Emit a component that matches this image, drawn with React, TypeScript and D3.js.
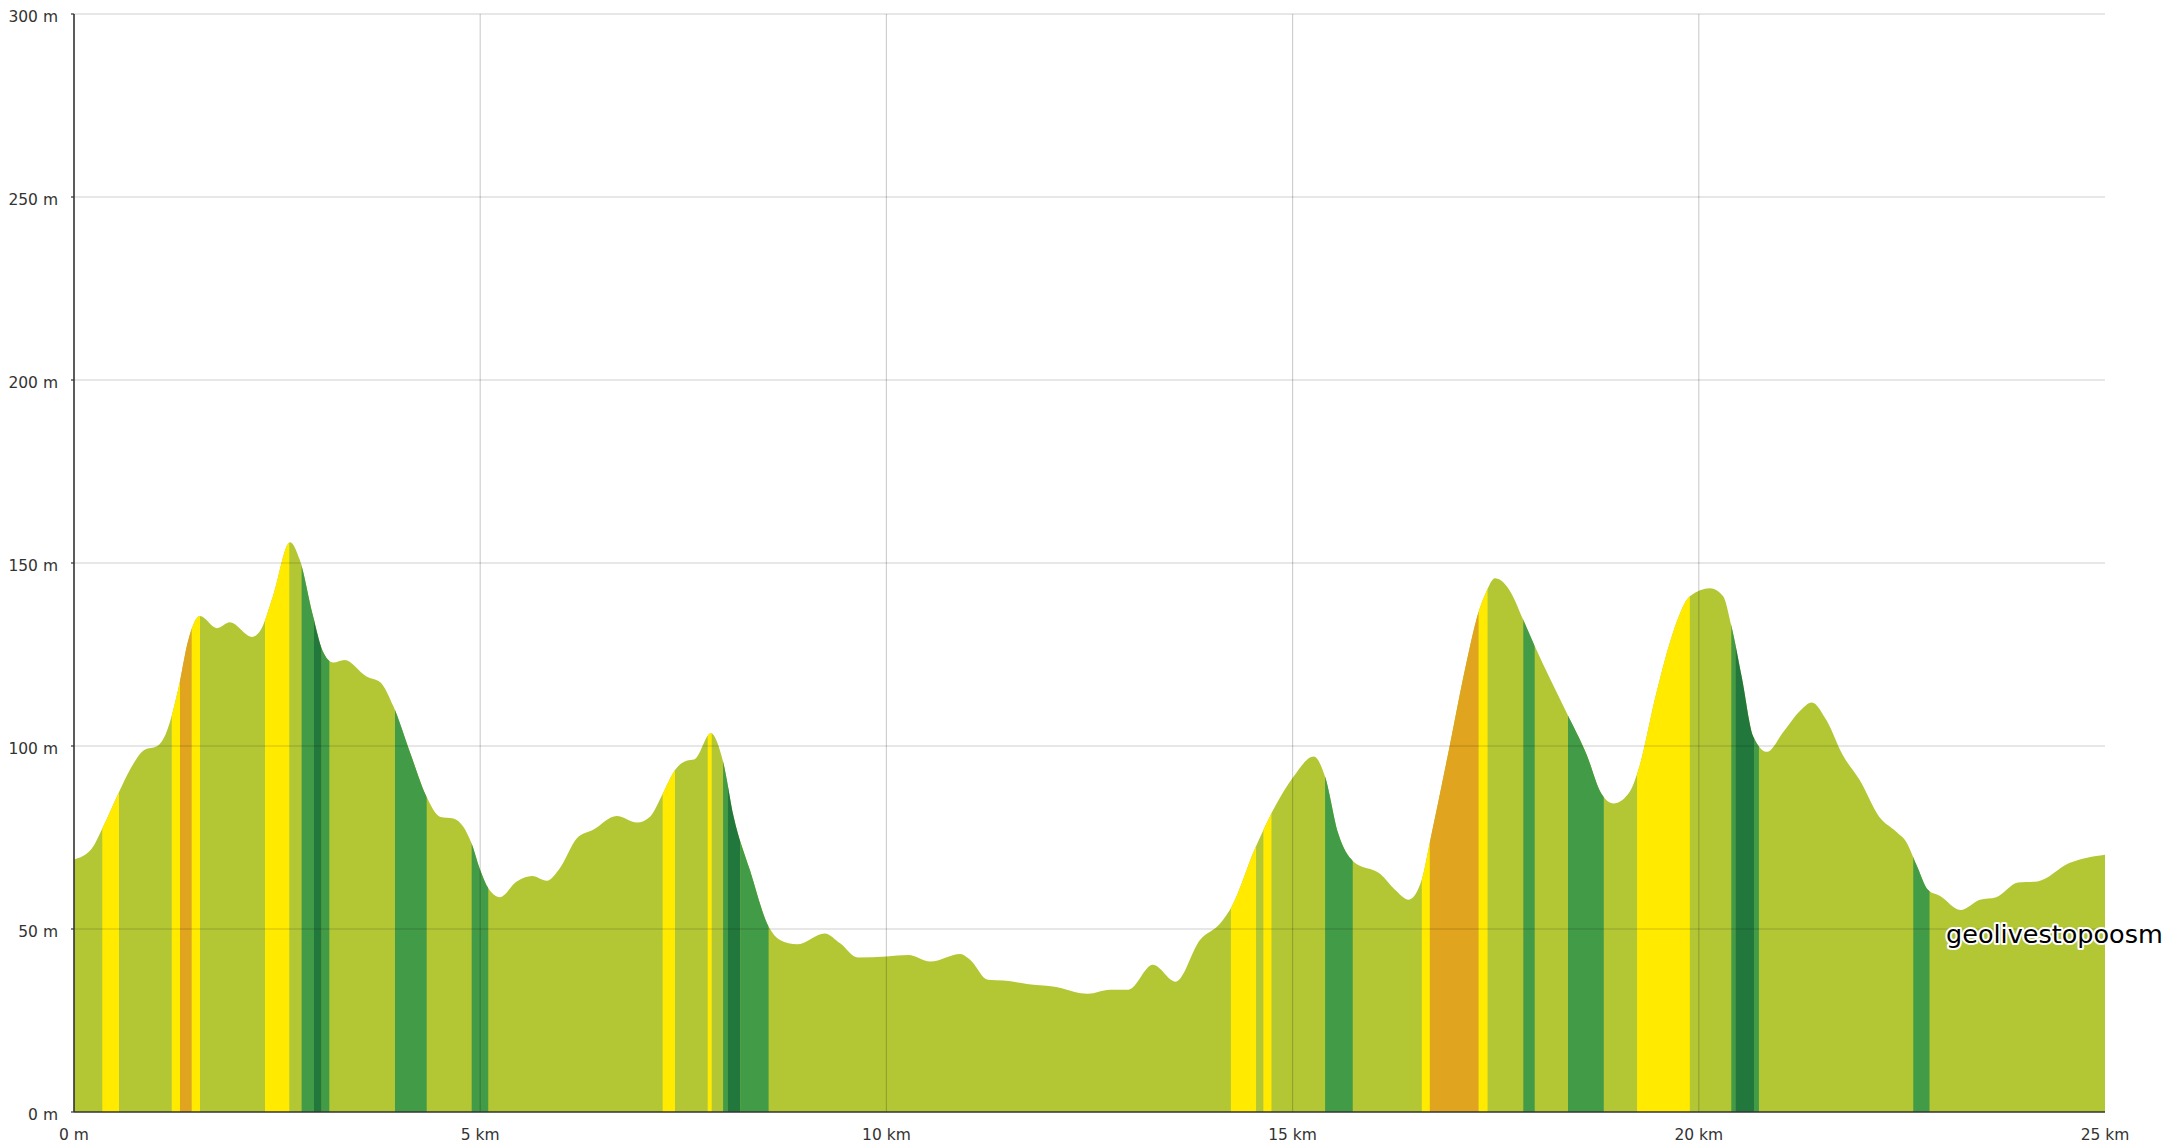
import * as d3 from "d3";

// elevation profile (km, m)
const distKm = [
  0, 0.22, 0.35, 0.56, 0.69, 0.87, 1.02, 1.14, 1.28, 1.41, 1.55, 1.76, 1.92, 2.19, 2.29, 2.45, 2.66, 2.78, 2.94, 3.06,
  3.19, 3.33, 3.6, 3.77, 3.93, 4.14, 4.34, 4.51, 4.67, 4.79, 4.9, 5.0, 5.1, 5.24, 5.45, 5.64, 5.82, 5.98, 6.19, 6.39,
  6.68, 6.93, 7.09, 7.25, 7.4, 7.54, 7.64, 7.84, 7.99, 8.12, 8.32, 8.55, 8.69, 8.9, 9.24, 9.43, 9.65, 10.0, 10.27, 10.54,
  10.91, 11.03, 11.25, 11.44, 11.73, 12.05, 12.48, 12.75, 12.98, 13.28, 13.56, 13.86, 14.11, 14.25, 14.54, 14.76, 15.01, 15.26, 15.4, 15.56,
  15.75, 16.08, 16.26, 16.43, 16.59, 16.69, 16.93, 17.14, 17.28, 17.39, 17.49, 17.66, 17.84, 17.98, 18.37, 18.62, 18.8, 18.95, 19.15, 19.25,
  19.48, 19.68, 19.89, 20.14, 20.3, 20.4, 20.53, 20.67, 20.84, 21.04, 21.25, 21.39, 21.57, 21.77, 21.98, 22.22, 22.43, 22.55, 22.68, 22.82,
  22.97, 23.22, 23.46, 23.66, 23.93, 24.17, 24.56, 25.0,
];
const elevM = [
  69, 72, 77.5, 87.7, 93.6, 99, 99.9, 103.9, 115.2, 129.2, 135.5, 132.2, 133.8, 129.8, 131.4, 141, 155.7, 150.8, 135.7, 126,
  122.8, 123.5, 119, 117.4, 110.9, 98, 86.1, 80.6, 80.2, 78, 73, 66.1, 61.1, 58.7, 63, 64.5, 63.2, 66.6, 74.8, 77.1,
  80.9, 79.1, 80.7, 87.1, 93.5, 96, 96.4, 103.5, 95.7, 80.7, 66.1, 50.7, 47, 45.8, 48.8, 46.1, 42.2, 42.5, 42.9, 41.1,
  43.2, 41.6, 36.1, 35.9, 35, 34.3, 32.3, 33.4, 33.4, 40.2, 35.6, 47, 51.6, 56.1, 72.1, 82.5, 91.6, 97.1, 91.6, 76.2,
  68.4, 65, 60.7, 58, 63.5, 73.8, 99.6, 122.8, 135.9, 142.4, 145.8, 142.9, 134.4, 127.3, 109.2, 97.6, 87, 84.3, 87.5, 93,
  114.7, 130.8, 140.9, 143.1, 140.9, 132.9, 118.7, 102.6, 98.4, 103.8, 109.7, 111.9, 107.1, 97.6, 90.7, 80.7, 76.6, 73.9, 67.5, 60.7,
  59, 55.2, 58, 58.7, 62.7, 63, 68, 70.3,
];

// slope classes along the route
const bandStart = [0.348, 1.203, 1.305, 1.449, 2.351, 2.802, 2.954, 3.049, 3.951, 4.895, 7.246, 7.8, 7.99, 8.05, 8.2, 14.24, 14.64, 15.4, 16.59, 16.69, 17.29, 17.84, 18.39, 19.24, 20.4, 20.45, 20.68, 22.64];
const bandEnd = [0.554, 1.305, 1.449, 1.551, 2.65, 2.954, 3.049, 3.143, 4.341, 5.099, 7.398, 7.85, 8.05, 8.2, 8.55, 14.55, 14.74, 15.74, 16.69, 17.29, 17.4, 17.98, 18.83, 19.89, 20.45, 20.68, 20.74, 22.84];
const bandClass = ["up", "up", "steepUp", "up", "up", "down", "steepDown", "down", "down", "down", "up", "up", "down", "steepDown", "down", "up", "up", "down", "up", "steepUp", "up", "down", "down", "up", "down", "steepDown", "down", "down"];

const xTicks = [0, 5, 10, 15, 20, 25];
const yTicks = [0, 50, 100, 150, 200, 250, 300];
const sourceLabel = "geolivestopoosm";

const classColor: Record<string, string> = {
  up: "#ffea00",
  steepUp: "#e1a41e",
  down: "#429b46",
  steepDown: "#22783c",
};

export default function App() {
  const width = 2163;
  const height = 1147;
  const left = 74;
  const right = 2105;
  const top = 14;
  const bottom = 1112;

  const x = d3.scaleLinear([0, 25], [left, right]);
  const y = d3.scaleLinear([0, 300], [bottom, top]);

  const points = distKm.map((d, i) => [d, elevM[i]] as [number, number]);
  const area = d3.area<[number, number]>()
    .x(d => x(d[0]))
    .y0(y(0))
    .y1(d => y(d[1]))
    .curve(d3.curveMonotoneX);
  const areaPath = area(points) || "";

  const font = "'DejaVu Sans', Verdana, sans-serif";
  const grid = "rgba(0,0,0,0.19)";

  return (
    <svg width={width} height={height} style={{ position: "absolute", left: 0, top: 0 }}>
      <defs>
        <clipPath id="profile">
          <path d={areaPath} />
        </clipPath>
      </defs>

      <path d={areaPath} fill="#b3c735" />
      <g clipPath="url(#profile)">
        {bandStart.map((s, i) => (
          <rect key={i} x={x(s)} y={top} width={x(bandEnd[i]) - x(s)} height={bottom - top}
            fill={classColor[bandClass[i]]} />
        ))}
      </g>

      {/* grid */}
      <g stroke={grid} strokeWidth={1.2}>
        {yTicks.filter(t => t > 0).map(t => (
          <line key={t} x1={left} x2={right} y1={y(t)} y2={y(t)} />
        ))}
        {xTicks.filter(t => t > 0 && t < 25).map(t => (
          <line key={t} x1={x(t)} x2={x(t)} y1={top} y2={bottom} />
        ))}
      </g>

      {/* axes */}
      <line x1={left} x2={left} y1={top} y2={bottom} stroke="#333" strokeWidth={1.6} />
      <line x1={left} x2={right} y1={bottom} y2={bottom} stroke="#333" strokeWidth={1.6} />
      {yTicks.map(t => (
        <g key={t}>
          <line x1={left - 3} x2={left} y1={y(t)} y2={y(t)} stroke="#333" strokeWidth={1.2} />
          <text x={58} y={y(t) + 7.5} textAnchor="end" fontFamily={font} fontSize={15.5} fill="#333">
            {`${t} m`}
          </text>
        </g>
      ))}
      {xTicks.map(t => (
        <text key={t} x={x(t)} y={1140} textAnchor="middle" fontFamily={font} fontSize={15.5} fill="#333">
          {t === 0 ? "0 m" : `${t} km`}
        </text>
      ))}

      <text x={1946} y={943} fontFamily={font} fontSize={25.5} fill="#000"
        stroke="#fff" strokeWidth={4} strokeLinejoin="round" style={{ paintOrder: "stroke" }}>
        {sourceLabel}
      </text>
    </svg>
  );
}
